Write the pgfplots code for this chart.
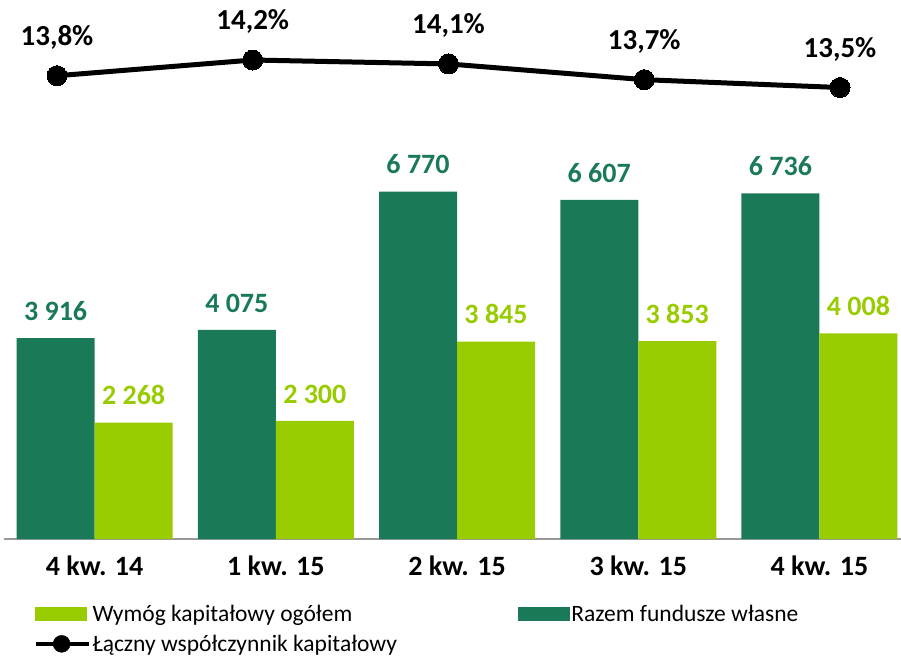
\documentclass[border=0pt]{standalone}
\usepackage{pgfplots}
\pgfplotsset{compat=1.18}
\usepackage{fontspec}
\setmainfont{Carlito}
\definecolor{darkg}{HTML}{1A7A58}
\definecolor{lightg}{HTML}{99CC00}
\begin{document}
\begin{tikzpicture}
\path[use as bounding box] (0pt,0pt) rectangle (901pt,-657pt);
% bars
\begin{axis}[
  at={(4pt,-539pt)}, anchor=south west,
  scale only axis, width=897pt, height=439pt,
  xmin=-0.5, xmax=4.45, ymin=0, ymax=8553,
  ybar, bar width=78pt,
  axis y line=none, axis x line=bottom,
  x axis line style={-, draw=gray!80, line width=1.5pt},
  xtick={0,1,2,3,4},
  xticklabels={4 kw. 14, 1 kw. 15, 2 kw. 15, 3 kw. 15, 4 kw. 15},
  xtick style={draw=none},
  x tick label style={font=\fontsize{28}{32}\selectfont\bfseries, yshift=-11pt},
  clip=false,
  /pgf/number format/assume math mode=true,
  /pgf/number format/1000 sep={\ },
  legend style={at={(0.0295,-0.141)}, anchor=north west, draw=none, fill=none,
    font=\fontsize{23.5}{28}\selectfont, row sep=8pt,
    /tikz/every even column/.append style={column sep=119pt}},
  legend columns=2, legend cell align=left,
]
\addplot[forget plot, fill=darkg, draw=none, bar shift=-39pt,
  nodes near coords, every node near coord/.append style={text=darkg, font=\fontsize{28}{32}\selectfont\bfseries, anchor=south, yshift=14pt}]
  coordinates {(0,3916) (1,4075) (2,6770) (3,6607) (4,6736)};
\addplot[forget plot, fill=lightg, draw=none, bar shift=39pt,
  nodes near coords, every node near coord/.append style={text=lightg, font=\fontsize{28}{32}\selectfont\bfseries, anchor=south, yshift=14pt}]
  coordinates {(0,2268) (1,2300) (2,3845) (3,3853) (4,4008)};
\addlegendimage{legend image code/.code={\fill[lightg] (0pt,-6.5pt) rectangle (51pt,6.5pt);}}
\addlegendentry{Wymóg kapitałowy ogółem}
\addlegendimage{legend image code/.code={\fill[darkg] (0pt,-6.5pt) rectangle (51pt,6.5pt);}}
\addlegendentry{Razem fundusze własne}
\addlegendimage{legend image code/.code={\draw[black, line width=4pt] (0pt,0pt) -- (53pt,0pt); \fill[black] (26pt,0pt) circle (8.5pt);}}
\addlegendentry{Łączny współczynnik kapitałowy}
\end{axis}
% line
\begin{axis}[
  at={(57pt,-107.2pt)}, anchor=south west,
  scale only axis, width=783pt, height=59pt,
  xmin=0, xmax=4, ymin=13.0, ymax=14.5,
  axis lines=none, clip=false,
  /pgf/number format/assume math mode=true,
]
\addplot[black, line width=5pt, line join=round, mark=*, mark size=10pt, mark options={fill=black, line width=0pt},
  nodes near coords={\pgfmathprintnumber[fixed, fixed zerofill, precision=1, use comma]{\pgfplotspointmeta}\%},
  every node near coord/.append style={text=black, font=\fontsize{29}{32}\selectfont\bfseries, anchor=south, yshift=23pt}]
  coordinates {(0,13.8) (1,14.2) (2,14.1) (3,13.7) (4,13.5)};
\end{axis}
\end{tikzpicture}
\end{document}
